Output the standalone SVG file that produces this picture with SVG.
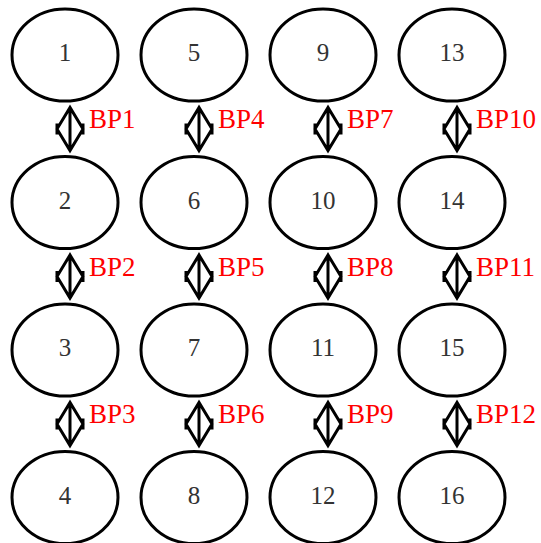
<svg xmlns="http://www.w3.org/2000/svg" xmlns:xlink="http://www.w3.org/1999/xlink" width="541" height="543" viewBox="0 0 541 543">
<style>
.n{fill:#fff;stroke:#000;stroke-width:3}
.t{font-family:"Liberation Serif","Times New Roman",serif;font-size:25px;fill:#333;text-anchor:middle}
.bp{font-family:"Liberation Serif","Times New Roman",serif;font-size:27px;fill:#f00}
.c{fill:none;stroke:#000;stroke-width:3;stroke-linejoin:miter}
</style>
<defs>
<g id="dbl">
<path class="c" d="M0,-21.5 L-13,0 L0,21.5 L13,0 Z M0,-21.5 V21.5 M-13,-5.5 V5.5 M13,-5.5 V5.5"/>
</g>
</defs>
<rect width="541" height="543" fill="#fff"/>
<g id="connectors">
<use xlink:href="#dbl" x="70" y="129"/><text class="bp" x="89" y="128">BP1</text>
<use xlink:href="#dbl" x="70" y="276.5"/><text class="bp" x="89" y="275.5">BP2</text>
<use xlink:href="#dbl" x="70" y="424"/><text class="bp" x="89" y="423">BP3</text>
<use xlink:href="#dbl" x="199" y="129"/><text class="bp" x="218" y="128">BP4</text>
<use xlink:href="#dbl" x="199" y="276.5"/><text class="bp" x="218" y="275.5">BP5</text>
<use xlink:href="#dbl" x="199" y="424"/><text class="bp" x="218" y="423">BP6</text>
<use xlink:href="#dbl" x="328" y="129"/><text class="bp" x="347" y="128">BP7</text>
<use xlink:href="#dbl" x="328" y="276.5"/><text class="bp" x="347" y="275.5">BP8</text>
<use xlink:href="#dbl" x="328" y="424"/><text class="bp" x="347" y="423">BP9</text>
<use xlink:href="#dbl" x="457" y="129"/><text class="bp" x="476" y="128">BP10</text>
<use xlink:href="#dbl" x="457" y="276.5"/><text class="bp" x="476" y="275.5">BP11</text>
<use xlink:href="#dbl" x="457" y="424"/><text class="bp" x="476" y="423">BP12</text>
</g>
<g id="n1"><ellipse class="n" cx="65" cy="55" rx="53" ry="46"/><text class="t" x="65" y="61">1</text></g>
<g id="n2"><ellipse class="n" cx="65" cy="202.5" rx="53" ry="46"/><text class="t" x="65" y="208.5">2</text></g>
<g id="n3"><ellipse class="n" cx="65" cy="350" rx="53" ry="46"/><text class="t" x="65" y="356">3</text></g>
<g id="n4"><ellipse class="n" cx="65" cy="497.5" rx="53" ry="46"/><text class="t" x="65" y="503.5">4</text></g>
<g id="n5"><ellipse class="n" cx="194" cy="55" rx="53" ry="46"/><text class="t" x="194" y="61">5</text></g>
<g id="n6"><ellipse class="n" cx="194" cy="202.5" rx="53" ry="46"/><text class="t" x="194" y="208.5">6</text></g>
<g id="n7"><ellipse class="n" cx="194" cy="350" rx="53" ry="46"/><text class="t" x="194" y="356">7</text></g>
<g id="n8"><ellipse class="n" cx="194" cy="497.5" rx="53" ry="46"/><text class="t" x="194" y="503.5">8</text></g>
<g id="n9"><ellipse class="n" cx="323" cy="55" rx="53" ry="46"/><text class="t" x="323" y="61">9</text></g>
<g id="n10"><ellipse class="n" cx="323" cy="202.5" rx="53" ry="46"/><text class="t" x="323" y="208.5">10</text></g>
<g id="n11"><ellipse class="n" cx="323" cy="350" rx="53" ry="46"/><text class="t" x="323" y="356">11</text></g>
<g id="n12"><ellipse class="n" cx="323" cy="497.5" rx="53" ry="46"/><text class="t" x="323" y="503.5">12</text></g>
<g id="n13"><ellipse class="n" cx="452" cy="55" rx="53" ry="46"/><text class="t" x="452" y="61">13</text></g>
<g id="n14"><ellipse class="n" cx="452" cy="202.5" rx="53" ry="46"/><text class="t" x="452" y="208.5">14</text></g>
<g id="n15"><ellipse class="n" cx="452" cy="350" rx="53" ry="46"/><text class="t" x="452" y="356">15</text></g>
<g id="n16"><ellipse class="n" cx="452" cy="497.5" rx="53" ry="46"/><text class="t" x="452" y="503.5">16</text></g>
</svg>
